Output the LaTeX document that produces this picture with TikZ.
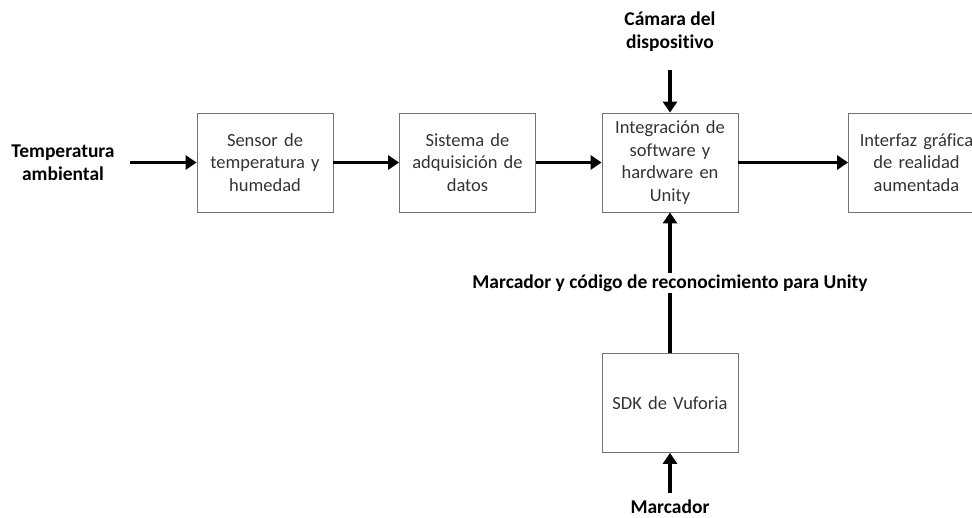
\documentclass[tikz,border=0pt]{standalone}
\usepackage{fontspec}
\setmainfont{Carlito}[Ligatures=NoCommon]
\usetikzlibrary{arrows.meta}
\begin{document}
\begin{tikzpicture}[x=1pt,y=-1pt,
  blk/.style={draw=black!55,line width=0.8pt,minimum width=136pt,minimum height=99pt,
    text width=132pt,align=center,inner sep=2pt,font=\fontsize{18.5}{22.5}\selectfont,text=black!80},
  lbl/.style={align=center,font=\bfseries\fontsize{19.5}{23}\selectfont,inner sep=1pt},
  arr/.style={line width=3.5pt,-{Triangle[length=11pt,width=14pt]}}]
\useasboundingbox (0,0) rectangle (972,517);
\node[blk] (sensor) at (265,162.5) {Sensor de\\temperatura y\\humedad};
\node[blk] (sist) at (467.5,162.5) {Sistema de\\adquisición de\\datos};
\node[blk] (integ) at (670,162.5) {Integración de\\software y\\hardware en\\Unity};
\node[blk] (inter) at (916.5,162.5) {Interfaz gráfica\\de realidad\\aumentada};
\node[blk] (sdk) at (670,403) {SDK de Vuforia};
\node[lbl] (temp) at (63,163) {Temperatura\\ambiental};
\node[lbl] (cam) at (670,32) {Cámara del\\dispositivo};
\node[lbl] (marcu) at (670,283) {Marcador y código de reconocimiento para Unity};
\node[lbl] (marc) at (670,507) {Marcador};
\coordinate (tempE) at (130,162.5);
\coordinate (camS) at (670,70);
\coordinate (marcN) at (670,493);
\draw[arr] (tempE) -- (sensor.west);
\draw[arr] (sensor.east) -- (sist.west);
\draw[arr] (sist.east) -- (integ.west);
\draw[arr] (integ.east) -- (inter.west);
\draw[arr] (camS) -- (integ.north);
\draw[line width=3.5pt] (sdk.north) -- (marcu.south);
\draw[arr] (marcu.north) -- (integ.south);
\draw[arr] (marcN) -- (sdk.south);
\end{tikzpicture}
\end{document}
